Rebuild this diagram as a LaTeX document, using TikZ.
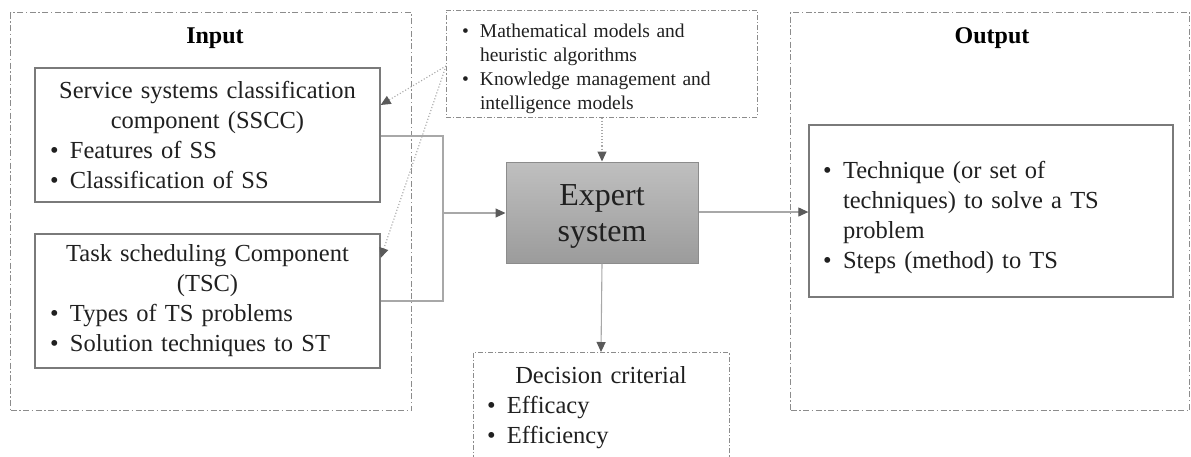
\documentclass[tikz,border=0pt]{standalone}
\usepackage{fontspec}
\setmainfont{Liberation Serif}
\usetikzlibrary{arrows.meta,calc}

% bullet line with hanging indent
\newcommand{\bline}[2][20pt]{\par\noindent\hangindent=#1\hangafter=1\makebox[#1][l]{\textbullet}#2\par}

\definecolor{frame}{HTML}{8C8C8C}
\definecolor{boxline}{HTML}{7A7A7A}
\definecolor{wire}{HTML}{A8A8A8}
\definecolor{tip}{HTML}{5A5A5A}
\definecolor{txt}{HTML}{202020}

\tikzset{
  group/.style={draw=frame, line width=1.1pt, dash pattern=on 6pt off 2.5pt on 1.5pt off 2.5pt},
  compbox/.style={draw=boxline, line width=1.3pt, fill=white, inner sep=0pt, text=txt,
    font=\fontsize{24.5}{30}\selectfont},
  notebox/.style={draw=frame, line width=1pt, dash pattern=on 5pt off 2pt on 1.2pt off 2pt,
    fill=white, inner sep=0pt, text=txt},
  wireline/.style={draw=wire, line width=1.1pt},
  flow/.style={wireline, -{Triangle[length=10pt,width=9pt,fill=tip,color=tip]}},
  hint/.style={draw=wire, line width=1.1pt, dotted,
    -{Triangle[length=10pt,width=9pt,fill=tip,color=tip]}},
  heading/.style={font=\bfseries\fontsize{24}{28}\selectfont, text=black}
}

\begin{document}
\begin{tikzpicture}[x=1pt,y=-1pt]
\useasboundingbox (0,0) rectangle (1191,456);
\clip (0,0) rectangle (1191,456);

% outer groups
\node[group, minimum width=401pt, minimum height=398pt, inner sep=0pt, anchor=north west]
  (inbox) at (10,12) {};
\node[group, minimum width=399pt, minimum height=398pt, inner sep=0pt, anchor=north west]
  (outbox) at (790,12) {};
\node[heading] (intitle) at (215,38) {Input};
\node[heading] (outtitle) at (992,38) {Output};

% input components
\node[compbox, minimum width=345pt, minimum height=134pt, text width=315pt]
  (sscc) at (207.5,135) {\raggedright
  {\centering Service systems classification\\component (SSCC)\par}
  \bline{Features of SS}
  \bline{Classification of SS}};
\node[compbox, minimum width=345pt, minimum height=134pt, text width=315pt]
  (tsc) at (207.5,301) {\raggedright
  {\centering Task scheduling Component\\(TSC)\par}
  \bline{Types of TS problems}
  \bline{Solution techniques to ST}};

% expert system
\node[draw=frame, line width=1pt, top color=gray!50, bottom color=gray!78,
  minimum width=192pt, minimum height=101pt, align=center, text=txt,
  font=\fontsize{32}{36}\selectfont] (expert) at (602,212.5) {\rule{0pt}{28pt}Expert\\system};

% knowledge models
\node[notebox, minimum width=311pt, minimum height=107pt, text width=279pt,
  font=\fontsize{19.5}{24}\selectfont] (models) at (601.5,63.5) {\raggedright
  \bline[18pt]{Mathematical models and\newline heuristic algorithms}
  \bline[18pt]{Knowledge management and\newline intelligence models}};

% decision criteria
\node[notebox, anchor=north, minimum width=256pt, minimum height=110pt, text width=228pt,
  font=\fontsize{24.5}{30}\selectfont] (decision) at (601,352) {\raggedright
  {\centering Decision criterial\par}
  \bline{Efficacy}
  \bline{Efficiency}};

% result
\node[compbox, minimum width=364pt, minimum height=172pt, text width=336pt]
  (result) at (991,211) {\raggedright
  \bline{Technique (or set of\newline techniques) to solve a TS\newline problem}
  \bline{Steps (method) to TS}};

% connectors
\coordinate (join) at (443,213);
\draw[wireline] (sscc.east |- 0,136) -| (join) |- (tsc.east |- 0,301);
\draw[flow] (join) -- (expert.west |- join);
\draw[flow] (expert.east |- 0,212) -- (result.west |- 0,212);
\draw[flow] (expert.south) -- (decision.north);
\draw[hint] (models.south -| expert.north) -- (expert.north);
\coordinate (src) at (446,66);
\draw[hint] (src) -- (sscc.east |- 0,105);
\draw[hint] (src) -- (tsc.east |- 0,258);
\end{tikzpicture}
\end{document}
